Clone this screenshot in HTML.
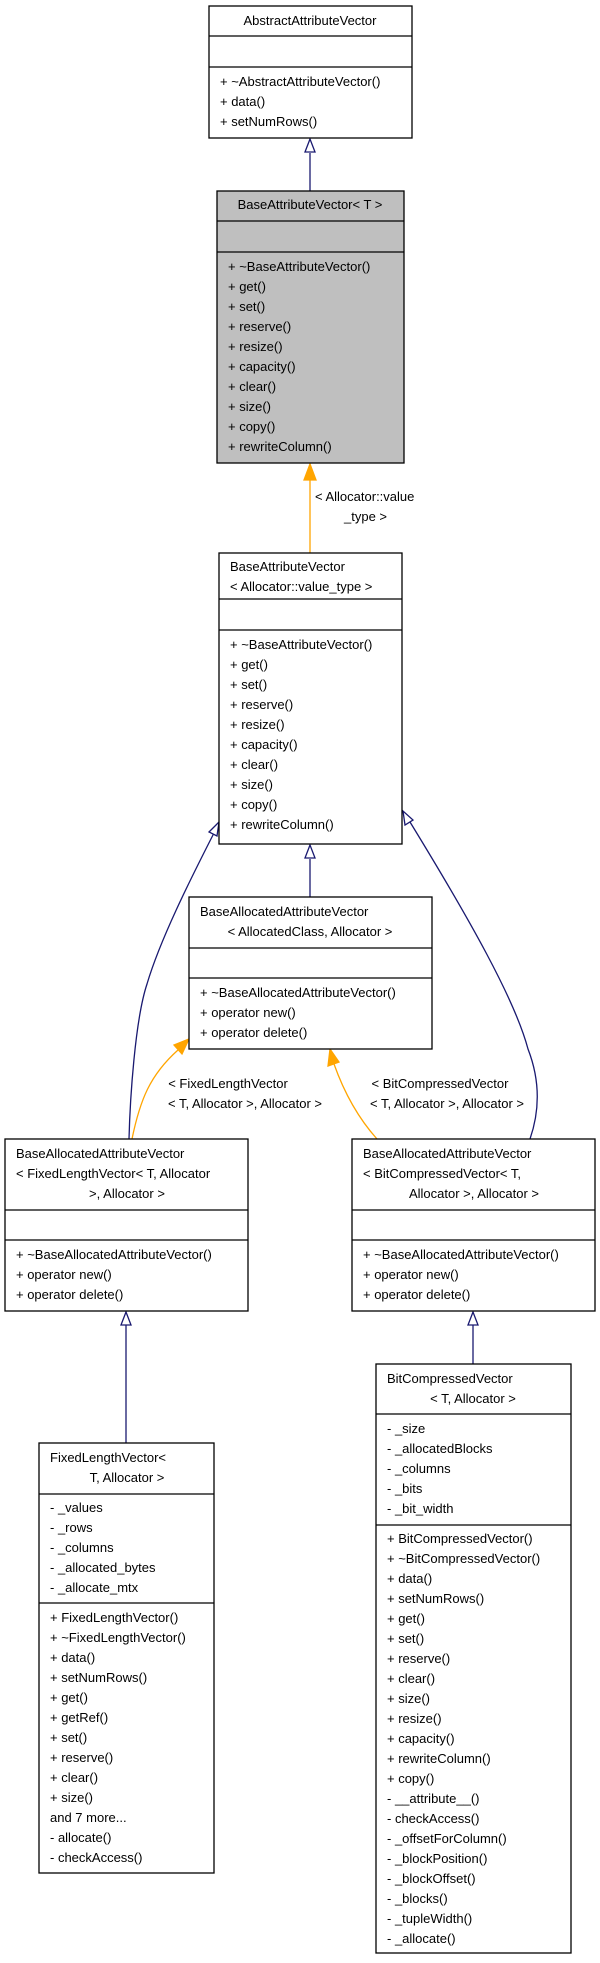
<!DOCTYPE html>
<html><head><meta charset="utf-8"><style>
html,body{margin:0;padding:0;background:#fff;}
svg{display:block;}
text{font-family:"Liberation Sans",Arial,sans-serif;font-size:13px;fill:#000;}
</style></head><body>
<svg width="600" height="1963" viewBox="0 0 600 1963" xmlns="http://www.w3.org/2000/svg">
<g fill="none" stroke-width="1.3">
<!-- edges -->
<path d="M310,191 L310,153" stroke="#191970"/>
<polygon points="310,139 305,152 315,152" fill="#fff" stroke="#191970"/>
<path d="M310,553 L310,480" stroke="orange"/>
<polygon points="310,464 304,480 316,480" fill="orange" stroke="orange"/>
<path d="M310,897 L310,859" stroke="#191970"/>
<polygon points="310,845 305,858 315,858" fill="#fff" stroke="#191970"/>
<path d="M129,1139 C130,1100 135,1020 147,984 C160,940 190,880 214,833" stroke="#191970"/>
<polygon points="219,822 209,832 217,836" fill="#fff" stroke="#191970"/>
<path d="M530,1139 C540,1110 540,1080 528,1049 C515,1000 470,920 410,822" stroke="#191970"/>
<polygon points="403,811 405,825 413,820" fill="#fff" stroke="#191970"/>
<path d="M132,1139 C140,1100 150,1075 178,1050" stroke="orange"/>
<polygon points="189,1039 174,1045 182,1054" fill="orange" stroke="orange"/>
<path d="M377,1139 C360,1120 345,1095 334,1064" stroke="orange"/>
<polygon points="330,1049 328,1066 339,1062" fill="orange" stroke="orange"/>
<path d="M126,1443 L126,1325" stroke="#191970"/>
<polygon points="126,1312 121,1325 131,1325" fill="#fff" stroke="#191970"/>
<path d="M473,1364 L473,1325" stroke="#191970"/>
<polygon points="473,1312 468,1325 478,1325" fill="#fff" stroke="#191970"/>
</g>
<g stroke="#000" stroke-width="1.3">
<rect x="209" y="6" width="203" height="132" fill="#fff"/>
<line x1="209" y1="36" x2="412" y2="36"/><line x1="209" y1="67" x2="412" y2="67"/>
<rect x="217" y="191" width="187" height="272" fill="#bfbfbf"/>
<line x1="217" y1="221" x2="404" y2="221"/><line x1="217" y1="252" x2="404" y2="252"/>
<rect x="219" y="553" width="183" height="291" fill="#fff"/>
<line x1="219" y1="599" x2="402" y2="599"/><line x1="219" y1="630" x2="402" y2="630"/>
<rect x="189" y="897" width="243" height="152" fill="#fff"/>
<line x1="189" y1="948" x2="432" y2="948"/><line x1="189" y1="978" x2="432" y2="978"/>
<rect x="5" y="1139" width="243" height="172" fill="#fff"/>
<line x1="5" y1="1210" x2="248" y2="1210"/><line x1="5" y1="1240" x2="248" y2="1240"/>
<rect x="352" y="1139" width="243" height="172" fill="#fff"/>
<line x1="352" y1="1210" x2="595" y2="1210"/><line x1="352" y1="1240" x2="595" y2="1240"/>
<rect x="39" y="1443" width="175" height="430" fill="#fff"/>
<line x1="39" y1="1494" x2="214" y2="1494"/><line x1="39" y1="1603" x2="214" y2="1603"/>
<rect x="376" y="1364" width="195" height="589" fill="#fff"/>
<line x1="376" y1="1414" x2="571" y2="1414"/><line x1="376" y1="1525" x2="571" y2="1525"/>
</g>
<g>
<text x="310" y="25" text-anchor="middle">AbstractAttributeVector</text>
<text x="220" y="86">+ ~AbstractAttributeVector()</text>
<text x="220" y="106">+ data()</text>
<text x="220" y="126">+ setNumRows()</text>

<text x="310" y="209" text-anchor="middle">BaseAttributeVector&lt; T &gt;</text>
<text x="228" y="271">+ ~BaseAttributeVector()</text>
<text x="228" y="291">+ get()</text>
<text x="228" y="311">+ set()</text>
<text x="228" y="331">+ reserve()</text>
<text x="228" y="351">+ resize()</text>
<text x="228" y="371">+ capacity()</text>
<text x="228" y="391">+ clear()</text>
<text x="228" y="411">+ size()</text>
<text x="228" y="431">+ copy()</text>
<text x="228" y="451">+ rewriteColumn()</text>

<text x="315" y="501">&lt; Allocator::value</text>
<text x="344" y="521">_type &gt;</text>

<text x="230" y="571">BaseAttributeVector</text>
<text x="230" y="591">&lt; Allocator::value_type &gt;</text>
<text x="230" y="649">+ ~BaseAttributeVector()</text>
<text x="230" y="669">+ get()</text>
<text x="230" y="689">+ set()</text>
<text x="230" y="709">+ reserve()</text>
<text x="230" y="729">+ resize()</text>
<text x="230" y="749">+ capacity()</text>
<text x="230" y="769">+ clear()</text>
<text x="230" y="789">+ size()</text>
<text x="230" y="809">+ copy()</text>
<text x="230" y="829">+ rewriteColumn()</text>

<text x="200" y="916">BaseAllocatedAttributeVector</text>
<text x="310" y="936" text-anchor="middle">&lt; AllocatedClass, Allocator &gt;</text>
<text x="200" y="997">+ ~BaseAllocatedAttributeVector()</text>
<text x="200" y="1017">+ operator new()</text>
<text x="200" y="1037">+ operator delete()</text>

<text x="228" y="1088" text-anchor="middle">&lt; FixedLengthVector</text>
<text x="245" y="1108" text-anchor="middle">&lt; T, Allocator &gt;, Allocator &gt;</text>
<text x="440" y="1088" text-anchor="middle">&lt; BitCompressedVector</text>
<text x="447" y="1108" text-anchor="middle">&lt; T, Allocator &gt;, Allocator &gt;</text>

<text x="16" y="1158">BaseAllocatedAttributeVector</text>
<text x="16" y="1178">&lt; FixedLengthVector&lt; T, Allocator</text>
<text x="127" y="1198" text-anchor="middle">&gt;, Allocator &gt;</text>
<text x="16" y="1259">+ ~BaseAllocatedAttributeVector()</text>
<text x="16" y="1279">+ operator new()</text>
<text x="16" y="1299">+ operator delete()</text>

<text x="363" y="1158">BaseAllocatedAttributeVector</text>
<text x="363" y="1178">&lt; BitCompressedVector&lt; T,</text>
<text x="474" y="1198" text-anchor="middle">Allocator &gt;, Allocator &gt;</text>
<text x="363" y="1259">+ ~BaseAllocatedAttributeVector()</text>
<text x="363" y="1279">+ operator new()</text>
<text x="363" y="1299">+ operator delete()</text>

<text x="50" y="1462">FixedLengthVector&lt;</text>
<text x="127" y="1482" text-anchor="middle">T, Allocator &gt;</text>
<text x="50" y="1512">- _values</text>
<text x="50" y="1532">- _rows</text>
<text x="50" y="1552">- _columns</text>
<text x="50" y="1572">- _allocated_bytes</text>
<text x="50" y="1592">- _allocate_mtx</text>
<text x="50" y="1622">+ FixedLengthVector()</text>
<text x="50" y="1642">+ ~FixedLengthVector()</text>
<text x="50" y="1662">+ data()</text>
<text x="50" y="1682">+ setNumRows()</text>
<text x="50" y="1702">+ get()</text>
<text x="50" y="1722">+ getRef()</text>
<text x="50" y="1742">+ set()</text>
<text x="50" y="1762">+ reserve()</text>
<text x="50" y="1782">+ clear()</text>
<text x="50" y="1802">+ size()</text>
<text x="50" y="1822">and 7 more...</text>
<text x="50" y="1842">- allocate()</text>
<text x="50" y="1862">- checkAccess()</text>

<text x="387" y="1383">BitCompressedVector</text>
<text x="473" y="1403" text-anchor="middle">&lt; T, Allocator &gt;</text>
<text x="387" y="1433">- _size</text>
<text x="387" y="1453">- _allocatedBlocks</text>
<text x="387" y="1473">- _columns</text>
<text x="387" y="1493">- _bits</text>
<text x="387" y="1513">- _bit_width</text>
<text x="387" y="1543">+ BitCompressedVector()</text>
<text x="387" y="1563">+ ~BitCompressedVector()</text>
<text x="387" y="1583">+ data()</text>
<text x="387" y="1603">+ setNumRows()</text>
<text x="387" y="1623">+ get()</text>
<text x="387" y="1643">+ set()</text>
<text x="387" y="1663">+ reserve()</text>
<text x="387" y="1683">+ clear()</text>
<text x="387" y="1703">+ size()</text>
<text x="387" y="1723">+ resize()</text>
<text x="387" y="1743">+ capacity()</text>
<text x="387" y="1763">+ rewriteColumn()</text>
<text x="387" y="1783">+ copy()</text>
<text x="387" y="1803">- __attribute__()</text>
<text x="387" y="1823">- checkAccess()</text>
<text x="387" y="1843">- _offsetForColumn()</text>
<text x="387" y="1863">- _blockPosition()</text>
<text x="387" y="1883">- _blockOffset()</text>
<text x="387" y="1903">- _blocks()</text>
<text x="387" y="1923">- _tupleWidth()</text>
<text x="387" y="1943">- _allocate()</text>
</g>
</svg>
</body></html>
